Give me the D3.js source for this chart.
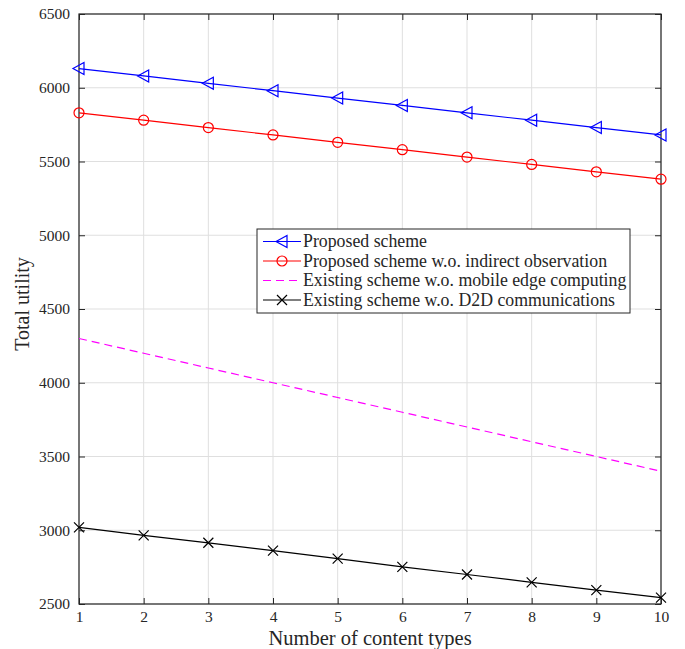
<!DOCTYPE html>
<html>
<head>
<meta charset="utf-8">
<script src="https://cdn.jsdelivr.net/npm/d3@7"></script>
<style>
  body { margin: 0; background: #fff; }
  text { font-family: "Liberation Serif", "Times New Roman", serif; fill: #262626; }
</style>
</head>
<body>
<svg id="chart" width="685" height="649"></svg>
<script>
// data
const contentTypes = [1, 2, 3, 4, 5, 6, 7, 8, 9, 10]
const proposed = [6130, 6080, 6030, 5980, 5930, 5880, 5830, 5780, 5730, 5680]
const noIndirect = [5830, 5780, 5730, 5680, 5630, 5580, 5530, 5480, 5430, 5380]
const noMec = [4300, 4200, 4100, 4000, 3900, 3800, 3700, 3600, 3500, 3400]
const noD2D = [3020, 2965, 2915, 2862, 2808, 2752, 2700, 2647, 2594, 2543]
const yTicks = [2500, 3000, 3500, 4000, 4500, 5000, 5500, 6000, 6500]
const seriesNames = [
  "Proposed scheme",
  "Proposed scheme w.o. indirect observation",
  "Existing scheme w.o. mobile edge computing",
  "Existing scheme w.o. D2D communications"
]

const margin = { left: 79, top: 14, right: 24, bottom: 45 }
const width = 685, height = 649
const svg = d3.select("#chart")

const x = d3.scaleLinear().domain([1, 10]).range([margin.left, width - margin.right])
const y = d3.scaleLinear().domain([2500, 6500]).range([height - margin.bottom, margin.top])

const series = [
  { name: seriesNames[0], values: proposed, color: "#0000ff", marker: "tri", dash: null },
  { name: seriesNames[1], values: noIndirect, color: "#ff0000", marker: "circle", dash: null },
  { name: seriesNames[2], values: noMec, color: "#ff00ff", marker: null, dash: "8,5" },
  { name: seriesNames[3], values: noD2D, color: "#000000", marker: "x", dash: null }
]

// grid
const grid = svg.append("g")
grid.selectAll(".gx").data(contentTypes).join("line")
  .attr("x1", d => x(d)).attr("x2", d => x(d))
  .attr("y1", y(2500)).attr("y2", y(6500))
  .attr("stroke", "#dfdfdf").attr("stroke-width", 1)
grid.selectAll(".gy").data(yTicks).join("line")
  .attr("x1", x(1)).attr("x2", x(10))
  .attr("y1", d => y(d)).attr("y2", d => y(d))
  .attr("stroke", "#dfdfdf").attr("stroke-width", 1)

// axes
const axisColor = "#262626"
function styleAxis(g) {
  g.select(".domain").remove()
  g.selectAll("line").attr("stroke", axisColor)
  g.selectAll("text").style("font-family", "Liberation Serif").style("font-size", "15.5px").attr("fill", axisColor)
}
svg.append("g").attr("transform", `translate(0,${y(2500)})`)
  .call(d3.axisBottom(x).tickValues(contentTypes).tickSize(-6).tickPadding(7).tickFormat(d3.format("d")))
  .call(styleAxis)
svg.append("g").attr("transform", `translate(0,${y(6500)})`)
  .call(d3.axisTop(x).tickValues(contentTypes).tickSize(-6).tickFormat(""))
  .call(styleAxis)
svg.append("g").attr("transform", `translate(${x(1)},0)`)
  .call(d3.axisLeft(y).tickValues(yTicks).tickSize(-6).tickPadding(9).tickFormat(d3.format("d")))
  .call(styleAxis)
svg.append("g").attr("transform", `translate(${x(10)},0)`)
  .call(d3.axisRight(y).tickValues(yTicks).tickSize(-6).tickFormat(""))
  .call(styleAxis)

svg.append("rect")
  .attr("x", x(1)).attr("y", y(6500))
  .attr("width", x(10) - x(1)).attr("height", y(2500) - y(6500))
  .attr("fill", "none").attr("stroke", axisColor).attr("stroke-width", 1.2)

// markers
function drawMarker(g, type, color, cx, cy) {
  if (type === "tri") {
    g.append("path")
      .attr("d", `M${cx - 6},${cy} L${cx + 5},${cy - 6} L${cx + 5},${cy + 6} Z`)
      .attr("fill", "none").attr("stroke", color).attr("stroke-width", 1.2)
  } else if (type === "circle") {
    g.append("circle").attr("cx", cx).attr("cy", cy).attr("r", 5)
      .attr("fill", "none").attr("stroke", color).attr("stroke-width", 1.2)
  } else if (type === "x") {
    g.append("path")
      .attr("d", `M${cx - 5},${cy - 5} L${cx + 5},${cy + 5} M${cx - 5},${cy + 5} L${cx + 5},${cy - 5}`)
      .attr("stroke", color).attr("stroke-width", 1.2)
  }
}

const line = d3.line().x((d, i) => x(contentTypes[i])).y(d => y(d))
series.forEach(s => {
  const g = svg.append("g")
  g.append("path").attr("d", line(s.values))
    .attr("fill", "none").attr("stroke", s.color).attr("stroke-width", 1.2)
    .attr("stroke-dasharray", s.dash)
  if (s.marker) s.values.forEach((v, i) => drawMarker(g, s.marker, s.color, x(contentTypes[i]), y(v)))
})

// legend
const lg = svg.append("g").attr("transform", "translate(257,229)")
lg.append("rect").attr("width", 373).attr("height", 84)
  .attr("fill", "#fff").attr("stroke", axisColor).attr("stroke-width", 1)
series.forEach((s, i) => {
  const ly = 12.5 + i * 19.5
  lg.append("line").attr("x1", 6).attr("x2", 44).attr("y1", ly).attr("y2", ly)
    .attr("stroke", s.color).attr("stroke-width", 1.2).attr("stroke-dasharray", s.dash)
  if (s.marker) drawMarker(lg, s.marker, s.color, 25, ly)
  lg.append("text").attr("x", 46).attr("y", ly + 5.5).style("font-size", "17.8px").attr("fill", "#000").text(s.name)
})

// axis labels
svg.append("text").attr("x", (x(1) + x(10)) / 2).attr("y", 645)
  .attr("text-anchor", "middle").style("font-size", "20.5px").text("Number of content types")
svg.append("text").attr("transform", `translate(29,${(y(2500) + y(6500)) / 2 - 5}) rotate(-90)`)
  .attr("text-anchor", "middle").style("font-size", "20px").text("Total utility")
</script>
</body>
</html>
